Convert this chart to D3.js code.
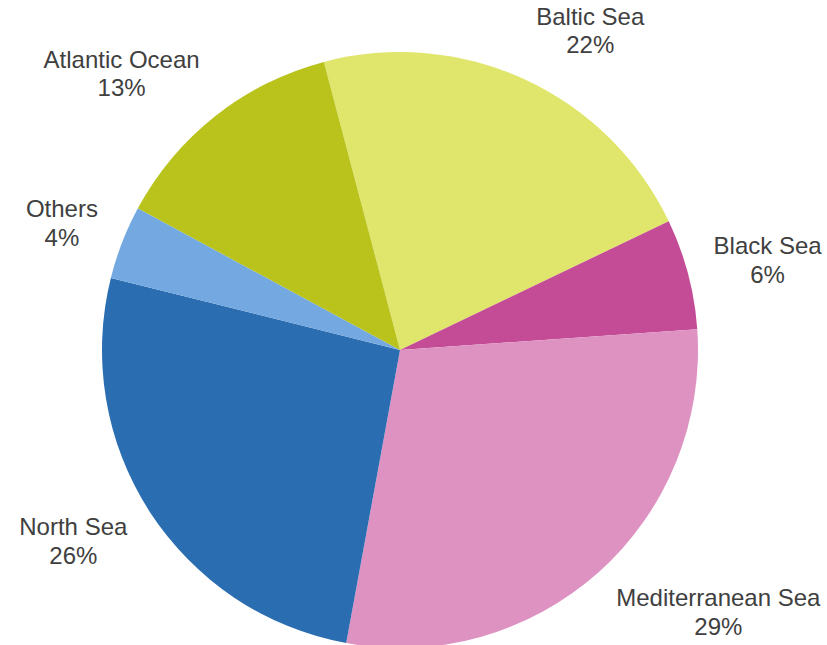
<!DOCTYPE html>
<html><head><meta charset="utf-8">
<script src="https://cdn.jsdelivr.net/npm/d3@7"></script>
<style>body{margin:0;background:#fff}</style>
</head><body>
<svg id="c" width="827" height="645"></svg>
<script>
const categories = ["Baltic Sea","Black Sea","Mediterranean Sea","North Sea","Others","Atlantic Ocean"];
const values = [22, 6, 29, 26, 4, 13];
const colors = ["#e0e56b","#c44b96","#de92c2","#2a6db1","#73a9e0","#b9c31c"];

const svg = d3.select("#c");
const cx = 400, cy = 350, r = 298;
const start = -14.8 * Math.PI / 180;
const pie = d3.pie().sort(null).startAngle(start).endAngle(start + 2*Math.PI);
const arcs = pie(values);
const arc = d3.arc().innerRadius(0).outerRadius(r);
const g = svg.append("g").attr("transform", `translate(${cx},${cy})`);
g.selectAll("path").data(arcs).enter().append("path")
  .attr("d", arc).attr("fill", (d,i)=>colors[i]);

const lg = svg.append("g");
arcs.forEach((d,i)=>{
  const a = (d.startAngle + d.endAngle)/2;
  const R = r + 26;
  const px = cx + R*Math.sin(a), py = cy - R*Math.cos(a);
  const t = lg.append("text").attr("text-anchor","middle")
    .attr("font-family","'Liberation Sans', Arial, sans-serif")
    .attr("font-size","24px").attr("fill","#404040");
  t.append("tspan").attr("x",0).attr("dy","0").text(categories[i]);
  t.append("tspan").attr("x",0).attr("dy","1.2em").text(values[i] + "%");
  const bb = t.node().getBBox();
  const hw = bb.width/2, hh = bb.height/2;
  const sx = Math.sin(a) >= 0 ? 1 : -1;
  const ccx = px + sx*hw;
  const ccy = py - hh*Math.cos(a);
  t.attr("transform", `translate(${ccx},${ccy - (bb.y + hh)})`);
});
</script>
</body></html>
